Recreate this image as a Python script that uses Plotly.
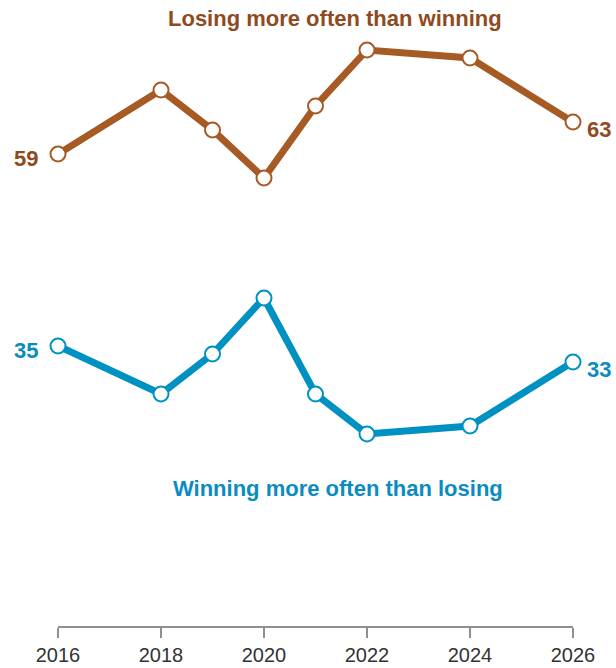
import plotly.graph_objects as go

# Survey years and shares (%)
years = [2016, 2018, 2019, 2020, 2021, 2022, 2024, 2026]
losing = [59, 67, 62, 56, 65, 72, 71, 63]
winning = [35, 29, 34, 41, 29, 24, 25, 33]
tick_years = [2016, 2018, 2020, 2022, 2024, 2026]

BROWN = "#A65A24"
BROWN_TXT = "#8F4B1E"
BLUE = "#0091C3"
BLUE_TXT = "#0A8CC0"
FONT = "Liberation Sans, Arial, sans-serif"

fig = go.Figure()

for vals, col in [(losing, BROWN), (winning, BLUE)]:
    fig.add_trace(go.Scatter(
        x=years, y=vals, mode="lines+markers",
        line=dict(color=col, width=7),
        marker=dict(size=15, color="white", line=dict(color=col, width=2)),
        cliponaxis=False, hoverinfo="x+y", showlegend=False,
    ))

# End-point value labels
for vals, col in [(losing, BROWN_TXT), (winning, BLUE_TXT)]:
    fig.add_annotation(x=years[0], y=vals[0], text=f"<b>{vals[0]}</b>",
                       xref="x", yref="y", showarrow=False, xanchor="right",
                       yanchor="middle", xshift=-18, yshift=-4,
                       font=dict(family=FONT, size=22, color=col))
    fig.add_annotation(x=years[-1], y=vals[-1], text=f"<b>{vals[-1]}</b>",
                       xref="x", yref="y", showarrow=False, xanchor="left",
                       yanchor="middle", xshift=12, yshift=-7,
                       font=dict(family=FONT, size=22, color=col))

# Series labels
fig.add_annotation(x=0.538, y=0.971, xref="paper", yref="paper",
                   xanchor="center", yanchor="middle",
                   text="<b>Losing more often than winning</b>", showarrow=False,
                   font=dict(family=FONT, size=22, color=BROWN_TXT))
fig.add_annotation(x=0.544, y=0.2197, xref="paper", yref="paper",
                   xanchor="center", yanchor="middle",
                   text="<b>Winning more often than losing</b>", showarrow=False,
                   font=dict(family=FONT, size=22, color=BLUE_TXT))

fig.update_xaxes(
    range=[2016, 2026], tickvals=tick_years, ticktext=[str(y) for y in tick_years],
    showgrid=False, zeroline=False,
    showline=True, linecolor="#8f8f8f", linewidth=2,
    ticks="outside", ticklen=10, tickwidth=2, tickcolor="#8f8f8f",
    tickfont=dict(family=FONT, size=20, color="#333333"),
)
fig.update_yaxes(range=[0, 78.25], visible=False, showgrid=False, zeroline=False)

fig.update_layout(
    width=616, height=668,
    margin=dict(l=58, r=43, t=0, b=42, autoexpand=False),
    plot_bgcolor="white", paper_bgcolor="white",
)

fig.write_html("out.html", config={"displayModeBar": False})
